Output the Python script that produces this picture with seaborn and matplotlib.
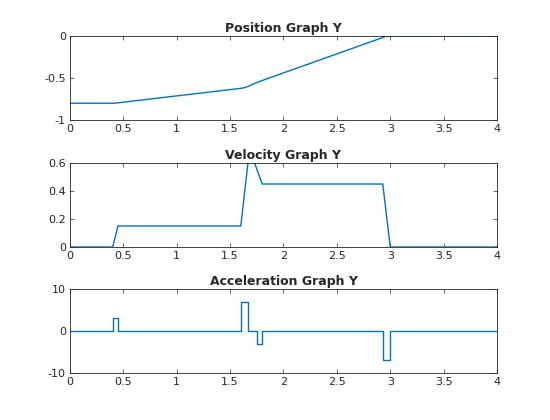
import matplotlib
matplotlib.use("Agg")
import matplotlib.pyplot as plt
import seaborn as sns
import pandas as pd

sns.set_style("ticks")
plt.rcParams['font.family'] = ['DejaVu Sans']
plt.rcParams['font.size'] = 8

# position
pos_t = [0, 0.42, 1.62, 1.67, 1.72, 1.8, 2.97, 4.0]
pos_y = [-0.8, -0.8, -0.62, -0.6, -0.57, -0.53, 0.0, 0.0]

# velocity
vel_t = [0, 0.4, 0.45, 1.6, 1.67, 1.72, 1.8, 2.93, 3.0, 4.0]
vel_y = [0, 0, 0.15, 0.15, 0.62, 0.62, 0.45, 0.45, 0.0, 0.0]

# acceleration (step)
acc_t = [0, 0.4, 0.4, 0.45, 0.45, 1.6, 1.6, 1.67, 1.67, 1.75, 1.75, 1.8, 1.8, 2.93, 2.93, 3.0, 3.0, 4.0]
acc_y = [0, 0, 3, 3, 0, 0, 7, 7, 0, 0, -3, -3, 0, 0, -7, -7, 0, 0]

panels = [
    ("Position Graph Y", pos_t, pos_y, (-1, 0), [-1, -0.5, 0], ["-1", "-0.5", "0"]),
    ("Velocity Graph Y", vel_t, vel_y, (0, 0.6), [0, 0.2, 0.4, 0.6], ["0", "0.2", "0.4", "0.6"]),
    ("Acceleration Graph Y", acc_t, acc_y, (-10, 10), [-10, 0, 10], ["-10", "0", "10"]),
]

fig = plt.figure(figsize=(5.5, 4.2), dpi=100)
bottoms = [1 - 120/420, 1 - 247/420, 1 - 373/420]
for (title, t, y, ylim, yt, ytl), b in zip(panels, bottoms):
    ax = fig.add_axes([70/550, b, 427/550, 84/420])
    df = pd.DataFrame({"t": t, "y": y})
    sns.lineplot(data=df, x="t", y="y", ax=ax, color="#0072BD", linewidth=1, sort=False, estimator=None)
    ax.set_xlim(0, 4)
    ax.set_ylim(*ylim)
    ax.set_xticks([0, 0.5, 1, 1.5, 2, 2.5, 3, 3.5, 4])
    ax.set_xticklabels(["0", "0.5", "1", "1.5", "2", "2.5", "3", "3.5", "4"])
    ax.set_yticks(yt)
    ax.set_yticklabels(ytl)
    ax.set_xlabel("")
    ax.set_ylabel("")
    ax.set_title(title, fontweight="bold", fontsize=9, pad=3)
    ax.tick_params(direction="in", top=True, right=True, length=3, width=0.5, pad=3)
    for s in ax.spines.values():
        s.set_linewidth(0.6)
        s.set_visible(True)

fig.savefig("out.png", dpi=100)
